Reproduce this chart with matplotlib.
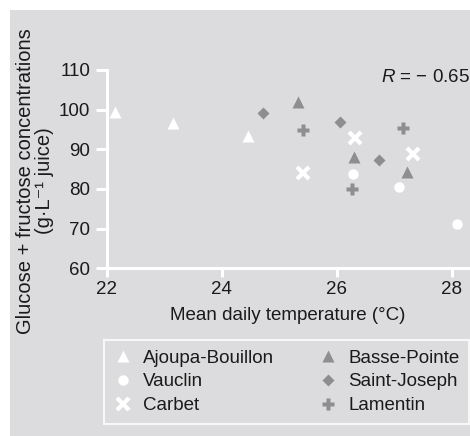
import numpy as np
import matplotlib
matplotlib.use("Agg")
import matplotlib.pyplot as plt
import matplotlib.patches as patches

plt.rcParams['font.family'] = ['Liberation Sans', 'DejaVu Sans']
plt.rcParams['mathtext.fontset'] = 'custom'
plt.rcParams['mathtext.it'] = 'Liberation Sans:italic'
plt.rcParams['mathtext.rm'] = 'Liberation Sans'

# site data: mean daily temperature (C) and glucose+fructose (g/L)
sites = ["Ajoupa-Bouillon", "Vauclin", "Carbet", "Basse-Pointe", "Saint-Joseph", "Lamentin"]
temp_ajoupa = [22.14, 23.16, 24.46]
sugar_ajoupa = [99.5, 96.7, 93.4]
temp_vauclin = [26.29, 27.09, 28.10]
sugar_vauclin = [83.9, 80.4, 71.1]
temp_carbet = [26.32, 25.42, 27.32]
sugar_carbet = [92.9, 84.1, 88.9]
temp_basse = [25.33, 26.31, 27.23]
sugar_basse = [102.0, 88.0, 84.4]
temp_joseph = [24.72, 26.06, 26.74]
sugar_joseph = [99.2, 96.9, 87.3]
temp_lamentin = [25.42, 27.16, 26.27]
sugar_lamentin = [94.8, 95.5, 80.1]

bg = '#dcdcde'
grey = '#8e8e90'
txt = '#1a1a1a'

fig = plt.figure(figsize=(4.7, 4.36), dpi=100)
fig.patch.set_facecolor('white')
fig.patches.append(patches.Rectangle((10/470, 0), 1, 426/436, transform=fig.transFigure,
                                     facecolor=bg, edgecolor='none', zorder=-10))

ax = fig.add_axes([106.7/470, (436-268.3)/436, 1 - 106.7/470, (268.3-70)/436])
ax.patch.set_alpha(0)

ms = 9
ax.plot(temp_ajoupa, sugar_ajoupa, '^', color='white', ms=ms, mec='none', label=sites[0])
ax.plot(temp_vauclin, sugar_vauclin, 'o', color='white', ms=ms-1.5, mec='none', label=sites[1])
ax.plot(temp_carbet, sugar_carbet, 'x', color='white', ms=ms-1, mew=3, label=sites[2])
ax.plot(temp_basse, sugar_basse, '^', color=grey, ms=ms, mec='none', label=sites[3])
ax.plot(temp_joseph, sugar_joseph, 'D', color=grey, ms=ms-2.5, mec='none', label=sites[4])
ax.plot(temp_lamentin, sugar_lamentin, 'P', color=grey, ms=ms, mec='none', label=sites[5])

ax.set_xlim(22, 28.32)
ax.set_ylim(60, 110)
ax.set_xticks([22, 24, 26, 28])
ax.set_yticks([60, 70, 80, 90, 100, 110])
for s in ['top', 'right']:
    ax.spines[s].set_visible(False)
for s in ['left', 'bottom']:
    ax.spines[s].set_color('white')
    ax.spines[s].set_linewidth(2.2)
ax.tick_params(colors='white', width=2.2, labelsize=13.5, labelcolor=txt)
ax.tick_params(axis='x', length=6.5, pad=3)
ax.tick_params(axis='y', length=8, pad=4)

ax.text(28.32, 108, '$R$ = \u2212 0.65', ha='right', va='center', fontsize=13.5, color=txt)

fig.text(288/470, (436-316)/436, 'Mean daily temperature (\u00b0C)', ha='center', va='center',
         fontsize=13.5, color=txt)
fig.text(35/470, (436-181)/436, 'Glucose + fructose concentrations\n(g\u00b7L\u207b\u00b9 juice)',
         rotation=90, ha='center', va='center', multialignment='center', fontsize=14.5,
         color=txt, linespacing=0.95)

leg = fig.legend(loc='upper left', bbox_to_anchor=(104/470, (436-340)/436, 365/470, 0),
                 mode='expand', ncol=2, fontsize=13.5, frameon=True, fancybox=False,
                 borderaxespad=0, borderpad=0.5, handlelength=1.0, handletextpad=0.6,
                 labelspacing=0.36, columnspacing=1.0)
leg.get_frame().set_facecolor(bg)
leg.get_frame().set_edgecolor('white')
leg.get_frame().set_linewidth(1.5)
for t in leg.get_texts():
    t.set_color(txt)

fig.savefig('out.png', dpi=100)
